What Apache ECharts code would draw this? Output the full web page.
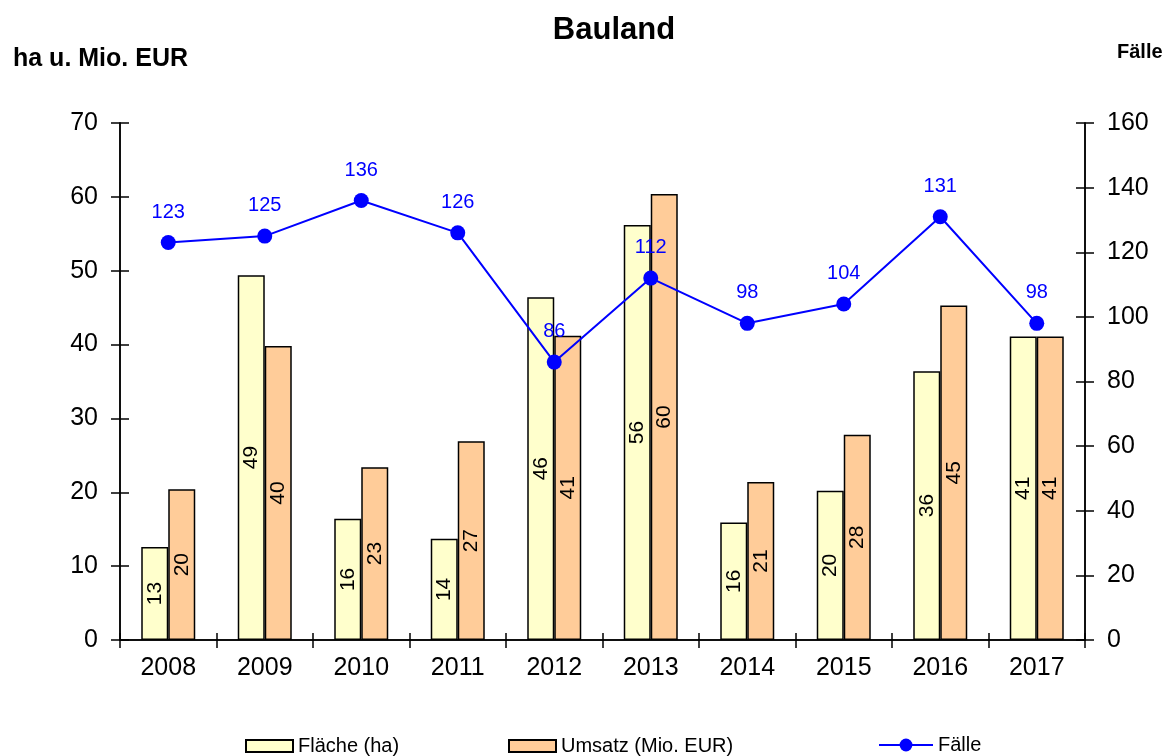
<!DOCTYPE html>
<html>
<head>
<meta charset="utf-8">
<script src="https://cdn.jsdelivr.net/npm/echarts@6/dist/echarts.min.js"></script>
<style>
html, body {margin:0; padding:0; background:#fff;}
#chart {width:1165px; height:756px;}
</style>
</head>
<body>
<div id="chart"></div>
<script>
var jahre = ['2008','2009','2010','2011','2012','2013','2014','2015','2016','2017'];
var flaeche = [12.6, 49.4, 16.4, 13.7, 46.4, 56.2, 15.9, 20.2, 36.4, 41.1];
var umsatz = [20.4, 39.8, 23.4, 26.9, 41.2, 60.4, 21.4, 27.8, 45.3, 41.1];
var faelle = [123, 125, 136, 126, 86, 112, 98, 104, 131, 98];

var font = 'Liberation Sans, Arial, sans-serif';
var schwarz = {color: '#000', width: 1.5};

var barLabel = {
    show: true,
    position: 'inside',
    rotate: 90,
    color: '#000',
    fontSize: 21,
    fontFamily: font,
    formatter: function (p) { return Math.round(p.value); }
};

echarts.init(document.getElementById('chart')).setOption({
    backgroundColor: '#fff',
    animation: false,
    title: [
        {text: 'Bauland', left: 609, top: 10, textAlign: 'center',
            textStyle: {fontSize: 31, fontWeight: 'bold', color: '#000', fontFamily: font}},
        {text: 'ha u. Mio. EUR', left: 8, top: 42,
            textStyle: {fontSize: 25, fontWeight: 'bold', color: '#000', fontFamily: font}},
        {text: 'Fälle', left: 1112, top: 37,
            textStyle: {fontSize: 20, fontWeight: 'bold', color: '#000', fontFamily: font}}
    ],
    legend: [
        {left: 240, top: 731, itemWidth: 47, itemHeight: 12, icon: 'rect', data: ['Fläche (ha)'],
            textStyle: {fontSize: 20, color: '#000', fontFamily: font, padding: [0,0,0,0]}},
        {left: 503, top: 731, itemWidth: 47, itemHeight: 12, icon: 'rect', data: ['Umsatz (Mio. EUR)'],
            textStyle: {fontSize: 20, color: '#000', fontFamily: font, padding: [0,0,0,0]}},
        {left: 873, top: 730, itemWidth: 54, itemHeight: 16, data: ['Fälle'],
            textStyle: {fontSize: 20, color: '#000', fontFamily: font, padding: [0,0,0,0]}}
    ],
    grid: {left: 120, right: 80, top: 123, bottom: 116, containLabel: false},
    xAxis: [
        {
            type: 'category',
            data: jahre,
            axisLine: {show: true, lineStyle: schwarz},
            axisTick: {show: true, length: 8, lineStyle: schwarz},
            axisLabel: {fontSize: 25, color: '#000', fontFamily: font, margin: 16}
        },
        {
            type: 'category',
            data: jahre,
            position: 'bottom',
            axisLine: {show: true, lineStyle: schwarz},
            axisTick: {show: true, inside: true, length: 7, lineStyle: schwarz},
            axisLabel: {show: false}
        }
    ],
    yAxis: [
        {
            type: 'value', min: 0, max: 70, interval: 10, position: 'left',
            splitLine: {show: false},
            axisLine: {show: true, lineStyle: schwarz},
            axisTick: {show: true, length: 9, lineStyle: schwarz},
            axisLabel: {fontSize: 25, color: '#000', fontFamily: font, margin: 22}
        },
        {
            type: 'value', min: 0, max: 160, interval: 20, position: 'right',
            splitLine: {show: false},
            axisLine: {show: true, lineStyle: schwarz},
            axisTick: {show: true, length: 9, lineStyle: schwarz},
            axisLabel: {fontSize: 25, color: '#000', fontFamily: font, margin: 22}
        },
        {
            type: 'value', min: 0, max: 70, interval: 10, position: 'left', offset: 0,
            splitLine: {show: false},
            axisLine: {show: true, lineStyle: schwarz},
            axisTick: {show: true, inside: true, length: 9, lineStyle: schwarz},
            axisLabel: {show: false}
        },
        {
            type: 'value', min: 0, max: 160, interval: 20, position: 'right', offset: 0,
            splitLine: {show: false},
            axisLine: {show: true, lineStyle: schwarz},
            axisTick: {show: true, inside: true, length: 9, lineStyle: schwarz},
            axisLabel: {show: false}
        }
    ],
    series: [
        {
            name: 'Fläche (ha)',
            type: 'bar',
            yAxisIndex: 0,
            data: flaeche,
            barWidth: 27,
            barGap: '0%',
            itemStyle: {color: '#FFFFCC', borderColor: '#000', borderWidth: 1.5},
            label: barLabel
        },
        {
            name: 'Umsatz (Mio. EUR)',
            type: 'bar',
            yAxisIndex: 0,
            data: umsatz,
            barWidth: 27,
            barGap: '0%',
            itemStyle: {color: '#FFCC99', borderColor: '#000', borderWidth: 1.5},
            label: barLabel
        },
        {
            name: 'Fälle',
            type: 'line',
            yAxisIndex: 1,
            data: faelle,
            symbol: 'circle',
            symbolSize: 15,
            itemStyle: {color: '#0000FF'},
            lineStyle: {color: '#0000FF', width: 2},
            label: {
                show: true, position: 'top', distance: 13,
                color: '#0000FF', fontSize: 20, fontFamily: font
            },
            z: 5
        }
    ]
});
</script>
</body>
</html>
